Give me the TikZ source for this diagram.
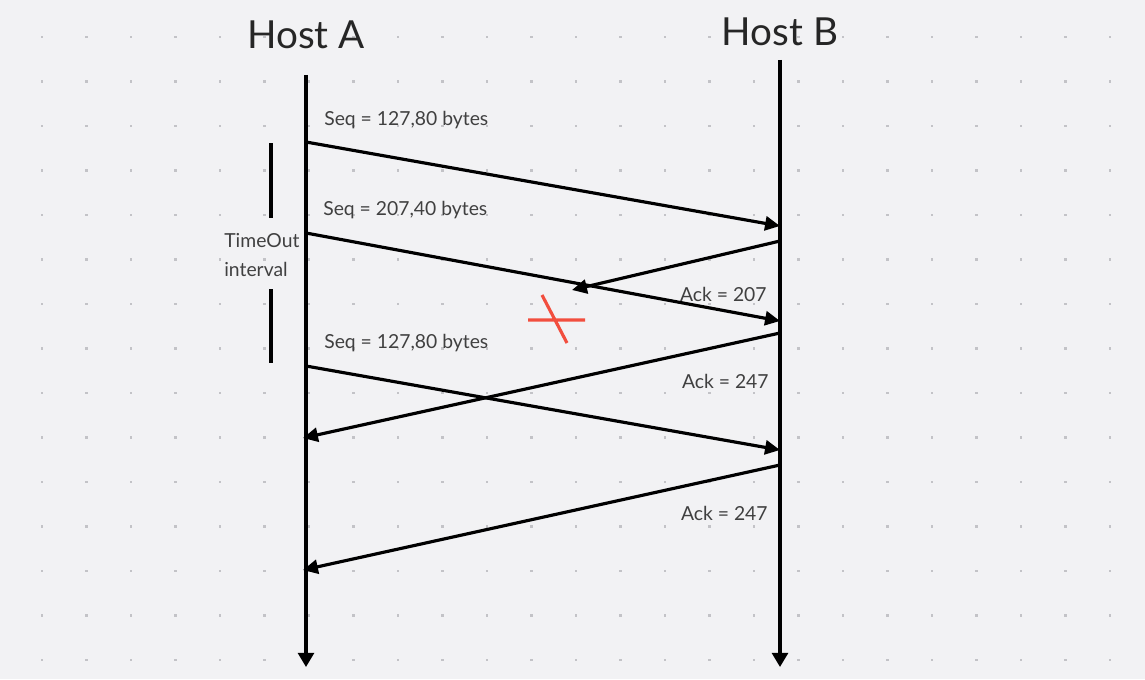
\documentclass[tikz,border=0pt]{standalone}
\usepackage{fontspec}
\setmainfont{Lato}
\usetikzlibrary{arrows.meta}
\definecolor{paper}{HTML}{F2F2F4}
\definecolor{griddot}{HTML}{C3C3C7}
\definecolor{lossred}{HTML}{F24E3E}
\definecolor{labelgrey}{HTML}{404040}
\begin{document}
\begin{tikzpicture}
  [x=0.02cm,y=-0.02cm,
   host/.style={font=\fontsize{22}{26}\selectfont,text=black!85,inner sep=0},
   lbl/.style={font=\fontsize{11}{16}\selectfont,text=labelgrey,inner sep=0},
   msg/.style={line width=1.8pt,-{Triangle[length=8.5pt,width=8pt]}},
   life/.style={line width=1.8pt,-{Triangle[length=8pt,width=9pt]}}]
  % dotted paper
  \fill[paper] (0,0) rectangle (1145,679);
  \foreach \i in {0,...,24}
    \foreach \j in {0,...,14}
      \fill[griddot] (42+44.5*\i-1.3,37+44.5*\j-1.3) rectangle ++(2.6,2.6);

  \node[host,anchor=base] (hA) at (306,49) {Host A};
  \node[host,anchor=base] (hB) at (780,46) {Host B};
  \coordinate (topA) at (306,75);
  \coordinate (endA) at (306,667);
  \coordinate (topB) at (780,60);
  \coordinate (endB) at (780,667);
  \draw[life] (topA) -- (endA);
  \draw[life] (topB) -- (endB);

  \coordinate (a1) at (306,142);  \coordinate (b1) at (780,226);
  \coordinate (b2) at (780,241);  \coordinate (m2) at (572,290);
  \coordinate (a3) at (306,233);  \coordinate (b3) at (780,321);
  \coordinate (b4) at (780,333);  \coordinate (a4) at (303,438);
  \coordinate (a5) at (306,366);  \coordinate (b5) at (780,450);
  \coordinate (b6) at (780,465);  \coordinate (a6) at (303,570);

  \foreach \from/\to in {a1/b1,b2/m2,a3/b3,b4/a4,a5/b5,b6/a6}
    \draw[msg] (\from) -- (\to);

  \node[lbl,anchor=base west] (seq1) at (324,125) {Seq = 127,80 bytes};
  \node[lbl,anchor=base west] (seq2) at (323,215) {Seq = 207,40 bytes};
  \node[lbl,anchor=base west] (seq3) at (324,348) {Seq = 127,80 bytes};
  \node[lbl,anchor=base east] (ack1) at (767,301) {Ack = 207};
  \node[lbl,anchor=base east] (ack2) at (769,388) {Ack = 247};
  \node[lbl,anchor=base east] (ack3) at (768,520) {Ack = 247};

  % timeout bracket
  \node[lbl,anchor=base west,align=left] (tout) at (224,276) {TimeOut\\interval};
  \coordinate (t1) at (271,143);  \coordinate (t2) at (271,218);
  \coordinate (t3) at (271,289);  \coordinate (t4) at (271,363);
  \draw[line width=2pt] (t1) -- (t2) (t3) -- (t4);

  % lost segment
  \coordinate (x1) at (528,320);  \coordinate (x2) at (585,320);
  \coordinate (x3) at (542,295);  \coordinate (x4) at (567,343);
  \draw[lossred,line width=1.8pt] (x1) -- (x2) (x3) -- (x4);
\end{tikzpicture}
\end{document}
